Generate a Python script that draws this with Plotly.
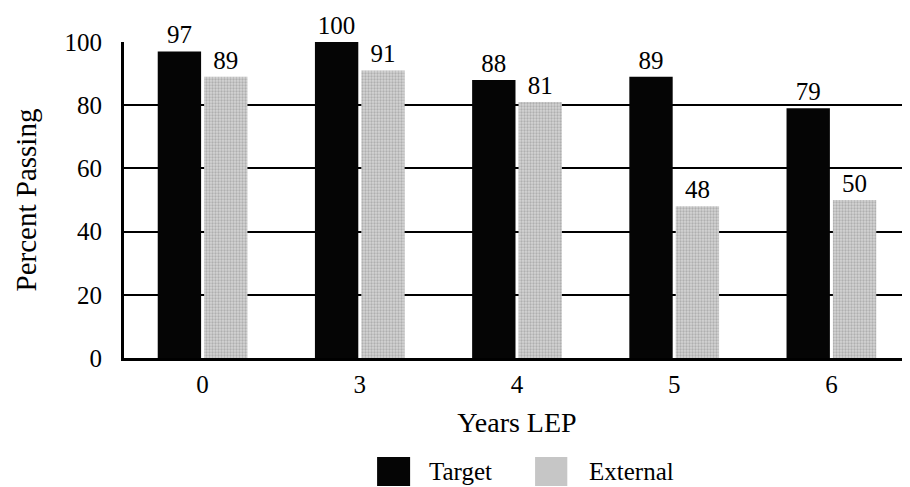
import plotly.graph_objects as go

categories = ["0", "3", "4", "5", "6"]
target = [97, 100, 88, 89, 79]
external = [89, 91, 81, 48, 50]
series_names = ["Target", "External"]
series_colors = ["#050505", "#bfbfbf"]

FONT = "Liberation Serif, Times New Roman, serif"

fig = go.Figure()
fig.add_trace(go.Bar(
    x=categories, y=target, name=series_names[0],
    marker=dict(color=series_colors[0], line=dict(width=0)),
    text=[str(v) for v in target], textposition="outside",
    textfont=dict(family=FONT, size=25, color="black"),
    cliponaxis=False, showlegend=False,
))
fig.add_trace(go.Bar(
    x=categories, y=external, name=series_names[1],
    marker=dict(color=series_colors[1], line=dict(width=0),
                pattern=dict(shape=".", fgcolor="#8a8a8a", bgcolor="#d4d4d4", size=3, solidity=0.45)),
    text=[str(v) for v in external], textposition="outside",
    textfont=dict(family=FONT, size=25, color="black"),
    cliponaxis=False, showlegend=False,
))

# manual legend (large swatches as in the reference)
legend_items = [
    (series_names[0], series_colors[0], 0.322, 0.364, 0.386),
    (series_names[1], "#c6c6c6", 0.523, 0.564, 0.589),
]
for name, col, x0, x1, xt in legend_items:
    fig.add_shape(type="rect", xref="paper", yref="paper",
                  x0=x0, x1=x1, y0=-0.405, y1=-0.313,
                  fillcolor=col, line=dict(width=0), layer="above")
    fig.add_annotation(text=name, xref="paper", yref="paper", x=xt, y=-0.36,
                       xanchor="left", yanchor="middle", showarrow=False,
                       font=dict(family=FONT, size=25, color="black"))

fig.update_layout(
    width=902, height=479,
    margin=dict(l=116, r=0, t=34, b=129),
    paper_bgcolor="white", plot_bgcolor="white",
    barmode="group", bargap=0.41, bargroupgap=0.065,
    font=dict(family=FONT, size=25, color="black"),
    showlegend=False,
)
fig.update_xaxes(
    type="category",
    showline=True, linecolor="black", linewidth=3,
    ticks="", tickfont=dict(family=FONT, size=25),
    ticklabelstandoff=2,
    title=dict(text="Years LEP", font=dict(family=FONT, size=28), standoff=16),
    showgrid=False,
)
fig.update_yaxes(
    range=[0, 100], dtick=20, tick0=0,
    showline=True, linecolor="black", linewidth=3,
    showgrid=True, gridcolor="black", gridwidth=2,
    zeroline=False,
    ticks="", tickfont=dict(family=FONT, size=25),
    ticklabelstandoff=14,
    title=dict(text="Percent Passing", font=dict(family=FONT, size=29), standoff=20),
)

fig.write_html("out.html")
